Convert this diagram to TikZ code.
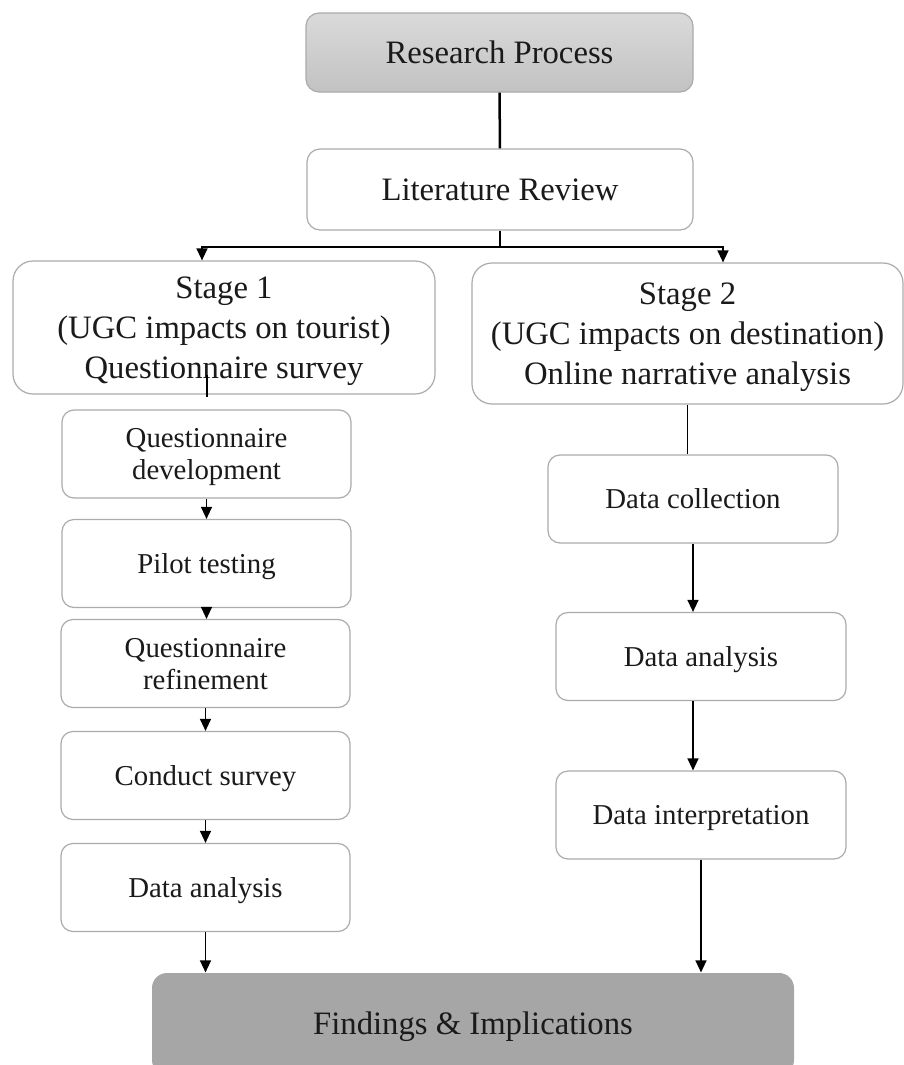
\documentclass[tikz,border=0pt]{standalone}
\usepackage{fontspec}
\setmainfont{Liberation Serif}
\usetikzlibrary{arrows.meta}

\definecolor{boxline}{HTML}{ABABAB}
\definecolor{ink}{HTML}{1A1A1A}
\definecolor{headtop}{HTML}{DADADA}
\definecolor{headbot}{HTML}{C2C2C2}
\definecolor{findfill}{HTML}{A6A6A6}

% struts that fix line height/depth so text centres on the cap height
\newcommand\stbig{\rule[-0.24em]{0pt}{1.14em}}
\newcommand\stsmall{\rule[-0.22em]{0pt}{1.10em}}

\tikzset{
  box/.style={draw=boxline, line width=1.2pt, fill=white, inner sep=0pt,
              align=center, text=ink},
  bigtext/.style={font=\fontsize{32.7}{40}\selectfont},
  mainbox/.style={box, bigtext, rounded corners=13pt},
  stagebox/.style={box, bigtext, rounded corners=20pt},
  stepbox/.style={box, rounded corners=12pt, minimum width=289pt,
                  minimum height=88pt, font=\fontsize{28.8}{32}\selectfont},
  link/.style={draw=black, line width=1.3pt},
  arr/.style={link, -{Triangle[length=12pt,width=11pt]}},
}

\begin{document}
\begin{tikzpicture}[x=1pt, y=-1pt]
\useasboundingbox (0,0) rectangle (904,1065);
\clip (0,0) rectangle (904,1065);

% top of the process
\node[mainbox, minimum width=387pt, minimum height=79pt,
      top color=headtop, bottom color=headbot] (rp) at (499.5,52.5)
  {\stbig Research Process};
\node[mainbox, minimum width=386pt, minimum height=81pt] (lr) at (500,189.5)
  {\stbig Literature Review};

% the two stages
\node[stagebox, minimum width=422pt, minimum height=133pt] (s1) at (224,327.5)
  {\stbig Stage 1\\\stbig (UGC impacts on tourist)\\\stbig Questionnaire survey};
\node[stagebox, minimum width=431pt, minimum height=141pt] (s2) at (687.5,333.5)
  {\stbig Stage 2\\\stbig (UGC impacts on destination)\\\stbig Online narrative analysis};

% stage 1 steps
\node[stepbox] (qd)  at (206.5,454)   {\stsmall Questionnaire\\\stsmall development};
\node[stepbox] (pt)  at (206.5,563.5) {\stsmall Pilot testing};
\node[stepbox] (qr)  at (205.5,663.5) {\stsmall Questionnaire\\\stsmall refinement};
\node[stepbox] (cs)  at (205.5,775.5) {\stsmall Conduct survey};
\node[stepbox] (lda) at (205.5,887.5) {\stsmall Data analysis};

% stage 2 steps
\node[stepbox, minimum width=290pt] (dc) at (693,499)   {\stsmall Data collection};
\node[stepbox, minimum width=290pt] (da) at (701,656.5) {\stsmall Data analysis};
\node[stepbox, minimum width=290pt] (di) at (701,815)   {\stsmall Data interpretation};

% outcome
\node[box, bigtext, draw=none, fill=findfill, rounded corners=15pt,
      minimum width=642pt, minimum height=102pt] (fi) at (473,1024)
  {\stbig Findings \& Implications};

% connectors
\draw[link, line width=2.5pt] (rp) -- (lr);

\coordinate (bl) at (202,247);
\coordinate (br) at (723,247);
\draw[arr] (lr.south) |- (bl) -- (bl |- s1.north);
\draw[arr] (lr.south) |- (br) -- (br |- s2.north);

\coordinate (t1) at (207,375);
\draw[link] (t1) -- ([yshift=-2pt]t1 |- s1.south);
\draw[arr] (qd.south) -- (qd.south |- pt.north);
\draw[arr] (pt.south) -- (pt.south |- qr.north);
\draw[arr] (qr.south) -- (qr.south |- cs.north);
\draw[arr] (cs.south) -- (cs.south |- lda.north);
\draw[arr] (lda.south) -- (lda.south |- fi.north);

\draw[link] (s2.south) -- (s2.south |- dc.north);
\draw[arr] (dc.south) -- (dc.south |- da.north);
\draw[arr] (da.south -| dc.south) -- (di.north -| dc.south);
\draw[arr] (di.south) -- (di.south |- fi.north);
\end{tikzpicture}
\end{document}
